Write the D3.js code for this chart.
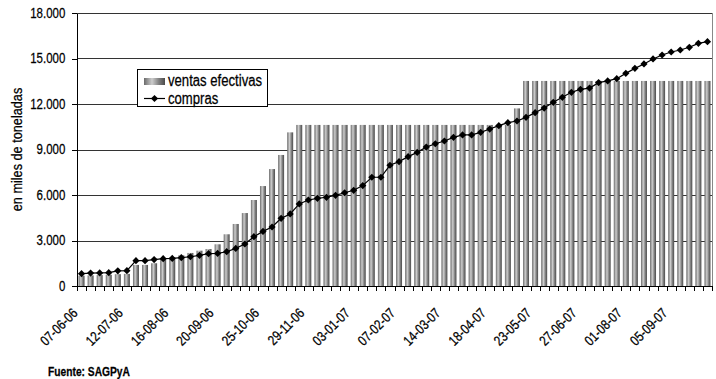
<!DOCTYPE html>
<html lang="es">
<head>
    <meta charset="UTF-8">
    <title>Ventas efectivas y compras</title>
    <script src="https://d3js.org/d3.v7.min.js"></script>
    <style>
        body {
            margin: 0;
            background-color: #fff;
        }
        svg text {
            font-family: "Liberation Sans", Arial, sans-serif;
            fill: #000;
            stroke: #000;
            stroke-width: 0.25px;
        }
        .grid line {
            stroke: #333;
            stroke-width: 1px;
        }
        .axis path, .axis line {
            stroke: #000;
            shape-rendering: crispEdges;
        }
    </style>
</head>
<body>
    <div id="chart"></div>

    <script>
        // semanas (miércoles)
        const fechas = [
            "07-06-06", "14-06-06", "21-06-06", "28-06-06", "05-07-06", "12-07-06", "19-07-06", "26-07-06",
            "02-08-06", "09-08-06", "16-08-06", "23-08-06", "30-08-06", "06-09-06", "13-09-06", "20-09-06",
            "27-09-06", "04-10-06", "11-10-06", "18-10-06", "25-10-06", "01-11-06", "08-11-06", "15-11-06",
            "22-11-06", "29-11-06", "06-12-06", "13-12-06", "20-12-06", "27-12-06", "03-01-07", "10-01-07",
            "17-01-07", "24-01-07", "31-01-07", "07-02-07", "14-02-07", "21-02-07", "28-02-07", "07-03-07",
            "14-03-07", "21-03-07", "28-03-07", "04-04-07", "11-04-07", "18-04-07", "25-04-07", "02-05-07",
            "09-05-07", "16-05-07", "23-05-07", "30-05-07", "06-06-07", "13-06-07", "20-06-07", "27-06-07",
            "04-07-07", "11-07-07", "18-07-07", "25-07-07", "01-08-07", "08-08-07", "15-08-07", "22-08-07",
            "29-08-07", "05-09-07", "12-09-07", "19-09-07", "26-09-07", "03-10-07"
        ];

        // etiquetas visibles en el eje x
        const etiquetasX = [
            "07-06-06", "12-07-06", "16-08-06", "20-09-06", "25-10-06", "29-11-06", "03-01-07",
            "07-02-07", "14-03-07", "18-04-07", "23-05-07", "27-06-07", "01-08-07", "05-09-07"
        ];

        // miles de toneladas
        const ventasEfectivas = [
            680, 700, 720, 740, 780, 800, 1390, 1390, 1500, 1760,
            1890, 2020, 2180, 2330, 2440, 2750, 3410, 4090, 4810, 5670,
            6590, 7710, 8640, 10130, 10620, 10620, 10620, 10620, 10620, 10620,
            10620, 10620, 10620, 10620, 10620, 10620, 10620, 10620, 10620, 10620,
            10620, 10620, 10620, 10620, 10620, 10620, 10620, 10620, 11710, 13520,
            13520, 13520, 13520, 13520, 13520, 13520, 13520, 13520, 13520, 13520,
            13520, 13520, 13520, 13520, 13520, 13520, 13520, 13520, 13520, 13520
        ];

        const compras = [
            810, 850, 860, 880, 1000, 1010, 1670, 1670, 1740, 1800,
            1820, 1870, 1930, 2020, 2130, 2150, 2260, 2480, 2770, 3250,
            3600, 3890, 4460, 4750, 5410, 5670, 5780, 5850, 5980, 6150,
            6310, 6620, 7170, 7170, 7960, 8200, 8530, 8810, 9160, 9380,
            9560, 9800, 9960, 9960, 10130, 10350, 10570, 10770, 10880, 11120,
            11430, 11730, 12110, 12440, 12770, 12970, 13050, 13410, 13520, 13670,
            14020, 14350, 14640, 14970, 15230, 15430, 15560, 15740, 16000, 16110
        ];

        const yTicks = [0, 3000, 6000, 9000, 12000, 15000, 18000];

        const width = 716, height = 379;
        const margin = {top: 13, right: 4, bottom: 93, left: 77};
        const plotW = width - margin.left - margin.right;
        const plotH = height - margin.top - margin.bottom;
        const narrow = "scale(0.82,1)"; // imita Arial Narrow

        const locale = d3.formatLocale({decimal: ",", thousands: ".", grouping: [3], currency: ["$", ""]});
        const fmt = locale.format(",.0f");

        const svg = d3.select("#chart")
            .append("svg")
            .attr("width", width)
            .attr("height", height);

        const defs = svg.append("defs");
        const grad = defs.append("linearGradient")
            .attr("id", "barGrad")
            .attr("x1", "0%").attr("x2", "100%")
            .attr("y1", "0%").attr("y2", "0%");
        grad.append("stop").attr("offset", "0%").attr("stop-color", "#6a6a6a");
        grad.append("stop").attr("offset", "38%").attr("stop-color", "#cdcdcd");
        grad.append("stop").attr("offset", "72%").attr("stop-color", "#7e7e7e");
        grad.append("stop").attr("offset", "100%").attr("stop-color", "#4a4a4a");

        const g = svg.append("g")
            .attr("transform", `translate(${margin.left},${margin.top})`);

        const x = d3.scaleBand()
            .domain(fechas)
            .range([0, plotW])
            .padding(0);

        // bordes de categoría para las marcas del eje
        const xb = d3.scaleLinear()
            .domain([0, fechas.length])
            .range([0, plotW]);

        const y = d3.scaleLinear()
            .domain([0, 18000])
            .range([plotH, 0]);

        // grilla
        g.append("g")
            .attr("class", "grid")
            .selectAll("line")
            .data(yTicks.filter(d => d > 0))
            .enter().append("line")
            .attr("x1", 0)
            .attr("x2", plotW)
            .attr("y1", d => Math.round(y(d)) + 0.5)
            .attr("y2", d => Math.round(y(d)) + 0.5);

        // borde derecho
        g.append("line")
            .attr("x1", plotW + 0.5).attr("x2", plotW + 0.5)
            .attr("y1", 0).attr("y2", plotH)
            .attr("stroke", "#888");

        // barras
        const barW = x.bandwidth() * 0.66;
        g.append("g")
            .selectAll("rect")
            .data(ventasEfectivas)
            .enter().append("rect")
            .attr("x", (d, i) => x(fechas[i]) + (x.bandwidth() - barW) / 2)
            .attr("y", d => y(d))
            .attr("width", barW)
            .attr("height", d => plotH - y(d))
            .attr("fill", "url(#barGrad)");

        // línea de compras
        const line = d3.line()
            .x((d, i) => x(fechas[i]) + x.bandwidth() / 2)
            .y(d => y(d));

        g.append("path")
            .datum(compras)
            .attr("d", line)
            .attr("fill", "none")
            .attr("stroke", "#000")
            .attr("stroke-width", 1.2);

        const diamond = "M0,-3.6L3.6,0L0,3.6L-3.6,0Z";
        g.append("g")
            .selectAll("path")
            .data(compras)
            .enter().append("path")
            .attr("d", diamond)
            .attr("transform", (d, i) => `translate(${x(fechas[i]) + x.bandwidth() / 2},${y(d)})`)
            .attr("fill", "#000");

        // eje y
        const yAxis = g.append("g")
            .attr("class", "axis")
            .call(d3.axisLeft(y)
                .tickValues(yTicks)
                .tickFormat(fmt)
                .tickSize(5)
                .tickSizeOuter(0)
                .tickPadding(9.3));
        yAxis.selectAll("text")
            .attr("transform", narrow)
            .style("font-size", "14px");

        // eje x
        g.append("g")
            .attr("class", "axis")
            .attr("transform", `translate(0,${plotH})`)
            .call(d3.axisBottom(xb)
                .tickValues(d3.range(fechas.length + 1))
                .tickFormat("")
                .tickSize(5)
                .tickSizeOuter(0));

        g.append("g")
            .selectAll("text")
            .data(etiquetasX)
            .enter().append("text")
            .attr("transform", d => `translate(${x(d) + x.bandwidth() / 2 - 3},${plotH + 28}) rotate(-45) ${narrow}`)
            .attr("text-anchor", "end")
            .style("font-size", "14px")
            .text(d => d);

        // título eje y
        svg.append("text")
            .attr("transform", `translate(22,${margin.top + plotH / 2}) rotate(-90) ${narrow}`)
            .attr("text-anchor", "middle")
            .style("font-size", "15.5px")
            .text("en miles de toneladas");

        // leyenda
        const legend = svg.append("g")
            .attr("transform", "translate(137,69)");
        legend.append("rect")
            .attr("x", 0.5).attr("y", 0.5)
            .attr("width", 130).attr("height", 37)
            .attr("fill", "#fff")
            .attr("stroke", "#000");
        legend.append("rect")
            .attr("x", 7).attr("y", 9)
            .attr("width", 21).attr("height", 7)
            .attr("fill", "url(#barGrad)");
        legend.append("text")
            .attr("transform", `translate(31,17) ${narrow}`)
            .style("font-size", "16px")
            .text("ventas efectivas");
        legend.append("line")
            .attr("x1", 7).attr("x2", 28)
            .attr("y1", 29.5).attr("y2", 29.5)
            .attr("stroke", "#000")
            .attr("stroke-width", 1.2);
        legend.append("path")
            .attr("d", diamond)
            .attr("transform", "translate(17.5,29.5)")
            .attr("fill", "#000");
        legend.append("text")
            .attr("transform", `translate(31,35) ${narrow}`)
            .style("font-size", "16px")
            .text("compras");

        // fuente
        svg.append("text")
            .attr("transform", `translate(48,376) ${narrow}`)
            .style("font-size", "12.5px")
            .style("font-weight", "bold")
            .text("Fuente: SAGPyA");
    </script>
</body>
</html>
